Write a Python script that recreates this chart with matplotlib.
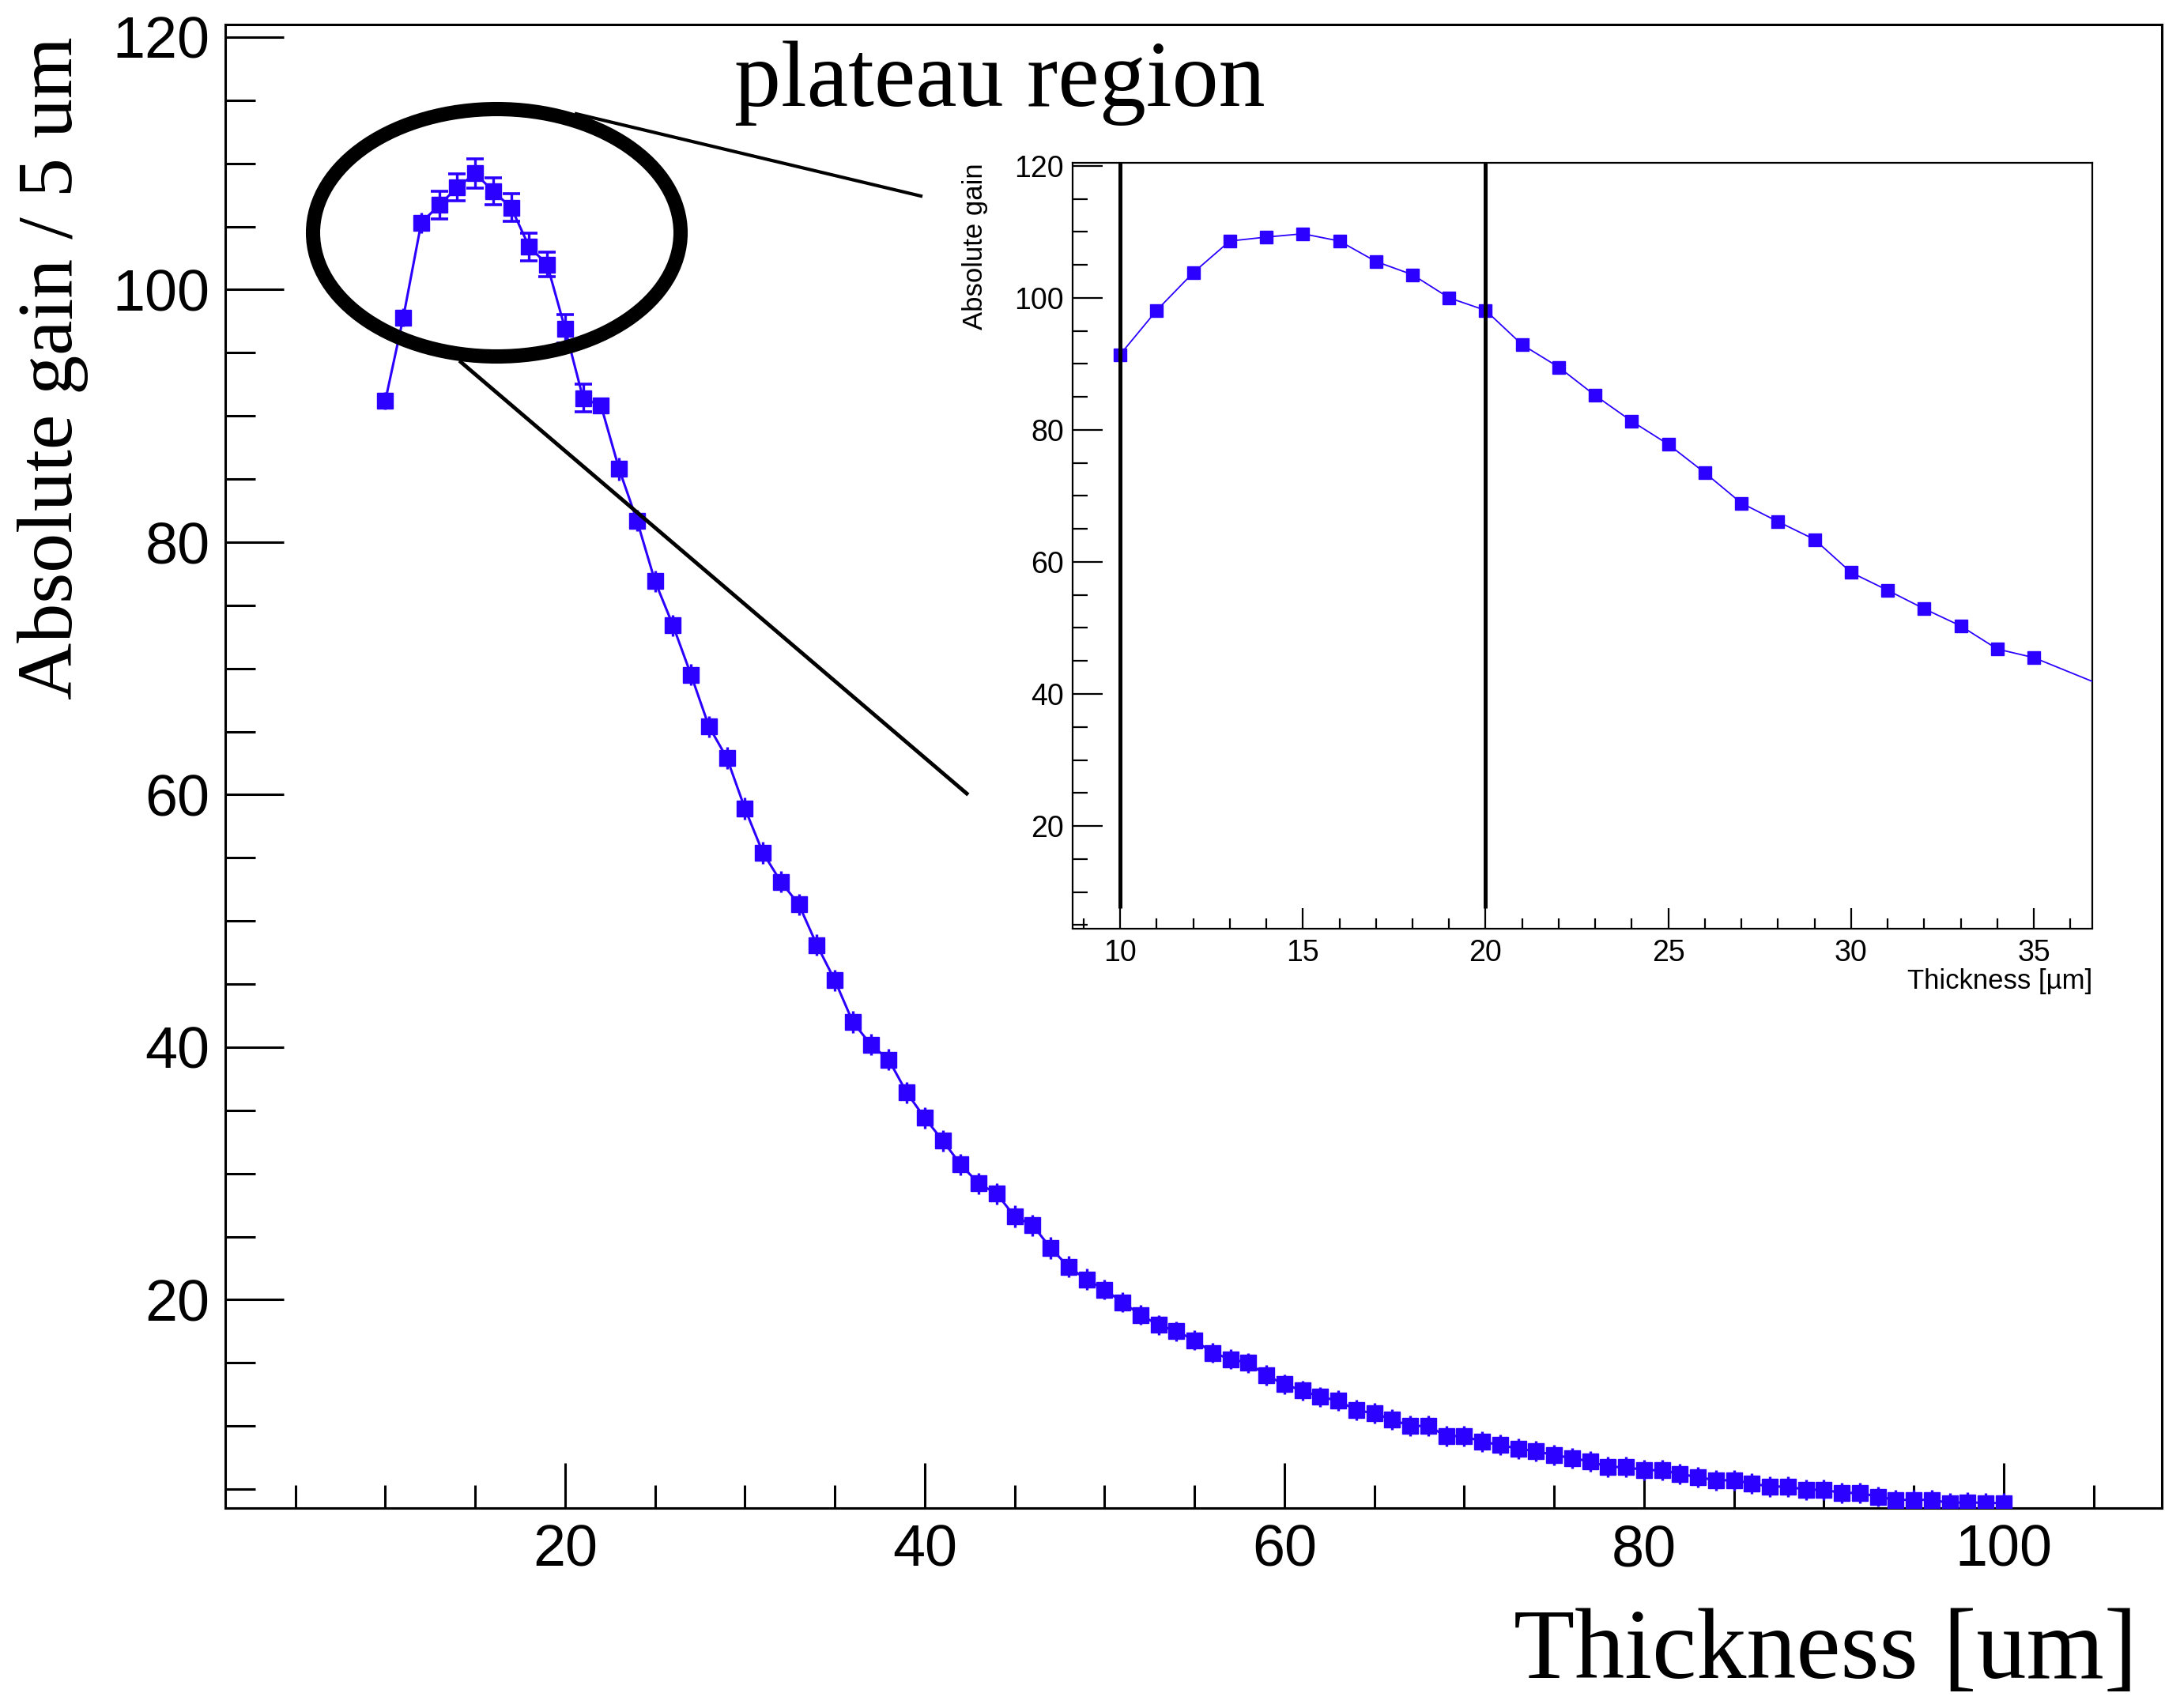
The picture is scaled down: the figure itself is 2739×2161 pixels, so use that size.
import numpy as np
import matplotlib
matplotlib.use("Agg")
import matplotlib.pyplot as plt
from matplotlib.patches import Ellipse
from matplotlib.lines import Line2D
from matplotlib.ticker import MultipleLocator

# main histogram: absolute gain per 5 um slice vs thickness
thick = list(range(10, 101))
gain = [91.2, 97.8, 105.3, 106.7, 108.1, 109.2, 107.8, 106.5, 103.4, 102.0,
        96.9, 91.4, 90.8, 85.8, 81.7, 76.9, 73.4, 69.5, 65.4, 62.9,
        58.9, 55.4, 53.1, 51.3, 48.1, 45.3, 42.0, 40.2, 39.0, 36.4,
        34.4, 32.6, 30.7, 29.2, 28.4, 26.6, 25.9, 24.1, 22.6, 21.6,
        20.8, 19.8, 18.8, 18.0, 17.5, 16.8, 15.8, 15.3, 15.0, 14.0,
        13.3, 12.8, 12.3, 12.0, 11.25, 11.0, 10.5, 10.0, 10.0, 9.2,
        9.2, 8.75, 8.5, 8.2, 8.0, 7.7, 7.45, 7.2, 6.75, 6.75,
        6.5, 6.5, 6.2, 5.95, 5.7, 5.7, 5.45, 5.2, 5.2, 4.95,
        4.95, 4.7, 4.7, 4.4, 4.15, 4.15, 4.15, 3.9, 3.95, 3.9,
        3.9]
gain_err = [0.7, 0.7, 0.8, 1.1, 1.05, 1.15, 1.05, 1.1, 1.1, 1.0,
            1.1, 1.1, 0.6, 0.9, 0.85, 0.85, 0.85, 0.85, 0.85, 0.9,
            0.85, 0.85, 0.85, 0.85, 0.85, 0.85, 0.85, 0.85, 0.85, 0.85,
            0.85, 0.85, 0.85, 0.85, 0.85, 0.85, 0.85, 0.85, 0.85, 0.85,
            0.8, 0.8, 0.8, 0.8, 0.8, 0.8, 0.8, 0.8, 0.8, 0.8,
            0.8, 0.8, 0.8, 0.8, 0.8, 0.8, 0.8, 0.8, 0.8, 0.8,
            0.8, 0.8, 0.8, 0.8, 0.8, 0.8, 0.8, 0.8, 0.8, 0.8,
            0.8, 0.8, 0.8, 0.8, 0.8, 0.8, 0.8, 0.8, 0.8, 0.8,
            0.8, 0.8, 0.8, 0.8, 0.8, 0.8, 0.8, 0.8, 0.8, 0.8,
            0.8]

# inset: absolute gain per 1 um
thick_in = [10, 11, 12, 13, 14, 15, 16, 17, 18, 19, 20, 21, 22, 23, 24, 25,
            26, 27, 28, 29, 30, 31, 32, 33, 34, 35, 37]
gain_in = [91.4, 98.1, 103.8, 108.6, 109.2, 109.7, 108.6, 105.5, 103.5, 100.0,
           98.1, 92.9, 89.5, 85.2, 81.3, 77.8, 73.5, 68.9, 66.1, 63.4,
           58.4, 55.7, 52.9, 50.3, 46.8, 45.5, 41.0]
cut_lines = [10, 20]

W, H = 2739, 2161
blue = "#2b00ff"
serif = "Liberation Serif"
sans = "Liberation Sans"

def fx(px):
    return px / W

def fy(py):
    return 1 - py / H

fig = plt.figure(figsize=(W / 100, H / 100), dpi=100)

######## main plot ########
ax = fig.add_axes([fx(285), fy(1908), fx(2735 - 285), (1908 - 31) / H])
thick = np.array(thick)
gain = np.array(gain)
gain_err = np.array(gain_err)
capped = gain_err >= 1.0

ax.plot(thick, gain, color=blue, lw=2.2, zorder=2)
ax.errorbar(thick[capped], gain[capped], yerr=gain_err[capped], fmt="s", ms=15,
            color=blue, ecolor=blue, elinewidth=2.4, capsize=8, capthick=2.6, zorder=3)
ax.errorbar(thick[~capped], gain[~capped], yerr=gain_err[~capped], fmt="s", ms=15,
            color=blue, ecolor=blue, elinewidth=2.4, capsize=0, zorder=3)

ax.set_xlim(1.1, 108.8)
ax.set_ylim(3.5, 121)
ax.xaxis.set_major_locator(MultipleLocator(20))
ax.xaxis.set_minor_locator(MultipleLocator(5))
ax.yaxis.set_major_locator(MultipleLocator(20))
ax.yaxis.set_minor_locator(MultipleLocator(5))
ax.tick_params(which="both", direction="in", top=False, right=False, width=2.2)
ax.tick_params(axis="x", which="major", length=41, pad=14, labelsize=53)
ax.tick_params(axis="x", which="minor", length=21)
ax.tick_params(axis="y", which="major", length=53, pad=14, labelsize=53)
ax.tick_params(axis="y", which="minor", length=27)
for lab in ax.get_xticklabels() + ax.get_yticklabels():
    lab.set_fontfamily(sans)
for s in ax.spines.values():
    s.set_linewidth(2.2)

fig.text(fx(2704), fy(2123), "Thickness [um]", family=serif, fontsize=91,
         ha="right", va="baseline")
fig.text(fx(67), fy(466), "Absolute gain / 5 um", family=serif, fontsize=72,
         rotation=90, ha="center", va="center")
fig.text(fx(929), fy(134), "plateau region", family=serif, fontsize=85,
         ha="left", va="baseline")

######## inset ########
axi = fig.add_axes([fx(1357), fy(1174.5), fx(2647 - 1357), (1174.5 - 206.4) / H])
axi.plot(thick_in, gain_in, color=blue, lw=1.3, marker="s", ms=11, zorder=3)
axi.vlines(cut_lines, 7.6, 125, color="black", lw=3.6, zorder=4)
axi.set_xlim(8.7, 36.6)
axi.set_ylim(4.5, 120.4)
axi.xaxis.set_major_locator(MultipleLocator(5))
axi.xaxis.set_minor_locator(MultipleLocator(1))
axi.yaxis.set_major_locator(MultipleLocator(20))
axi.yaxis.set_minor_locator(MultipleLocator(5))
axi.tick_params(which="both", direction="in", top=False, right=False, width=1.6)
axi.tick_params(axis="x", which="major", length=19, pad=10, labelsize=27)
axi.tick_params(axis="x", which="minor", length=9.5)
axi.tick_params(axis="y", which="major", length=27, pad=8, labelsize=27)
axi.tick_params(axis="y", which="minor", length=14)
for lab in axi.get_xticklabels() + axi.get_yticklabels():
    lab.set_fontfamily(sans)
for s in axi.spines.values():
    s.set_linewidth(1.6)

fig.text(fx(2647), fy(1242), "Thickness [\u00b5m]", family=sans, fontsize=25,
         ha="right", va="center")
fig.text(fx(1233), fy(206), "Absolute gain", family=sans, fontsize=25,
         rotation=90, ha="center", va="top")

######## annotation: ellipse + zoom lines ########
ell = Ellipse((fx(628.5), fy(294.5)), fx(465), 313 / H, transform=fig.transFigure,
              fill=False, edgecolor="black", lw=13, zorder=10)
fig.add_artist(ell)
fig.add_artist(Line2D([fx(729), fx(1165)], [fy(144), fy(248)],
                      transform=fig.transFigure, color="black", lw=3.0, zorder=10))
fig.add_artist(Line2D([fx(583), fx(1223)], [fy(458), fy(1004)],
                      transform=fig.transFigure, color="black", lw=3.5, zorder=10))

fig.savefig("out.png", dpi=100)
